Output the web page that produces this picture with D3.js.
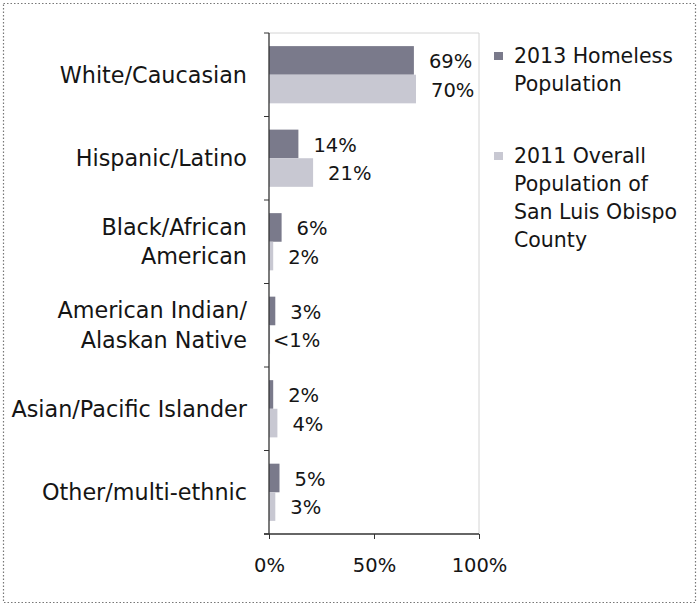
<!DOCTYPE html>
<html><head><meta charset="utf-8">
<script src="https://cdn.jsdelivr.net/npm/d3@7"></script>
<style>
html,body{margin:0;padding:0;background:#fff;}
text{font-family:"DejaVu Sans",sans-serif;fill:#151515;}
</style></head>
<body><svg id="c" width="699" height="607"></svg>
<script>
const categories = [
  ["White/Caucasian"],
  ["Hispanic/Latino"],
  ["Black/African","American"],
  ["American Indian/","Alaskan Native"],
  ["Asian/Pacific Islander"],
  ["Other/multi-ethnic"]
];
const seriesNames = [["2013 Homeless","Population"],["2011 Overall","Population of","San Luis Obispo","County"]];
const homeless2013 = [69, 14, 6, 3, 2, 5];
const overall2011 = [70, 21, 2, 0.5, 4, 3];
const homelessLabels = ["69%","14%","6%","3%","2%","5%"];
const overallLabels = ["70%","21%","2%","<1%","4%","3%"];
const xTicks = [0, 50, 100];
const colors = ["#7a7a8b","#c8c8d2"];

(function(){
const svg = d3.select("#c");
svg.append("rect").attr("x",3.5).attr("y",3.5).attr("width",692).attr("height",599)
  .attr("fill","none").attr("stroke","#777").attr("stroke-dasharray","1.5,2").attr("stroke-width",1.2);

const pL = 269, pR = 479, pT = 33, pB = 534;
const x = d3.scaleLinear().domain([0,100]).range([pL,pR]);
const y = d3.scaleBand().domain(d3.range(categories.length)).range([pT,pB]).paddingInner(0.315).paddingOuter(0.157);
const sub = d3.scaleBand().domain([0,1]).range([0,y.bandwidth()]);

svg.append("path").attr("d",`M${pL},${pT}H${pR}V${pB}`).attr("fill","none").attr("stroke","#d4d4d4").attr("stroke-width",1);

const series = [homeless2013, overall2011];
const labels = [homelessLabels, overallLabels];
series.forEach((vals, s) => {
  svg.append("g").selectAll("rect").data(vals).join("rect")
    .attr("x", x(0)).attr("y",(d,i)=>y(i)+sub(s)).attr("width",d=>x(d)-x(0)).attr("height",sub.bandwidth())
    .attr("fill",colors[s]);
  svg.append("g").selectAll("text").data(vals).join("text")
    .attr("x",(d,i)=> labels[s][i].startsWith("<") ? x(0)+4 : x(d)+15)
    .attr("y",(d,i)=>y(i)+sub(s)+sub.bandwidth()/2+1)
    .attr("dy","0.35em").attr("font-size",19.5).text((d,i)=>labels[s][i]);
});

const yAxis = svg.append("g");
yAxis.append("line").attr("x1",pL).attr("x2",pL).attr("y1",pT).attr("y2",pB).attr("stroke","#333").attr("stroke-width",1.3);
d3.range(categories.length+1).forEach(i=>{
  const yy = pT + i*(pB-pT)/categories.length;
  yAxis.append("line").attr("x1",pL-5).attr("x2",pL).attr("y1",yy).attr("y2",yy).attr("stroke","#333");
});
categories.forEach((lines,i)=>{
  const cy = y(i)+y.bandwidth()/2;
  const lh = 29.5;
  const t = svg.append("text").attr("text-anchor","end").attr("font-size",22.3);
  lines.forEach((l,j)=>{
    t.append("tspan").attr("x",247).attr("y",cy + (j-(lines.length-1)/2)*lh).attr("dy","0.35em").text(l);
  });
});

const xa = svg.append("g").attr("transform",`translate(0,${pB})`)
  .call(d3.axisBottom(x).tickValues(xTicks).tickSize(5).tickPadding(19).tickFormat(d=>d+"%"));
xa.select(".domain").attr("stroke","#333").attr("stroke-width",1.3).attr("d",`M${pL-5},0H${pR}`);
xa.selectAll(".tick line").attr("stroke","#333");
xa.selectAll("text").attr("font-size",19.5).attr("font-family","DejaVu Sans").attr("fill","#151515");

const legY = [56, 156];
seriesNames.forEach((lines,s)=>{
  svg.append("rect").attr("x",494).attr("y",legY[s]-4).attr("width",9).attr("height",8).attr("fill",colors[s]);
  const t = svg.append("text").attr("font-size",20.5);
  lines.forEach((l,j)=>{
    t.append("tspan").attr("x",514).attr("y",legY[s]+j*28).attr("dy","0.35em").text(l);
  });
});
})();
</script></body></html>
